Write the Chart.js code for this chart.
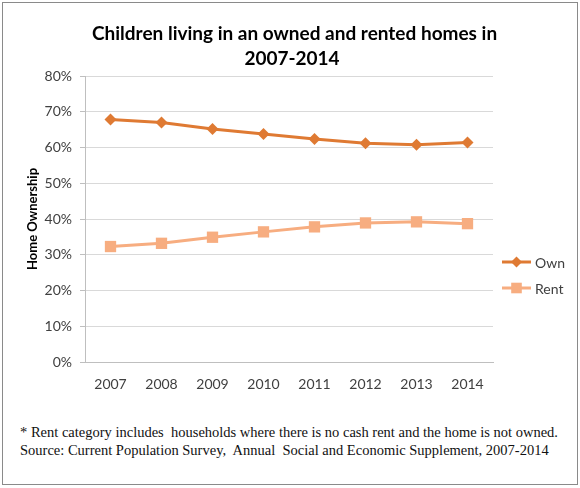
<!DOCTYPE html>
<html>
<head>
<meta charset="utf-8">
<script src="https://cdn.jsdelivr.net/npm/chart.js@4.4.1/dist/chart.umd.min.js"></script>
<style>
  html, body { margin: 0; padding: 0; background: #fff; }
  #frame {
    position: absolute; left: 2px; top: 2px; width: 574px; height: 481px;
    border: 1px solid #8a8a8a;
  }
  #wrap { position: absolute; left: 0; top: 0; width: 580px; height: 400px; }
  #title {
    position: absolute; left: 92px; width: 400px; top: 20px; text-align: center;
    font-family: Lato, "Open Sans", sans-serif; font-weight: bold;
    font-size: 19px; line-height: 25px; color: #000; white-space: nowrap;
  }
  #note {
    position: absolute; left: 20px; top: 423px;
    font-family: "Liberation Serif", "Times New Roman", serif;
    font-size: 14.5px; line-height: 18px; color: #111; white-space: pre;
  }
</style>
</head>
<body>
<div id="frame"></div>
<div id="wrap"><canvas id="chart" width="580" height="400"></canvas></div>
<div id="title">Children living in an owned and rented homes in<br>2007-2014</div>
<div id="note">* Rent category includes  households where there is no cash rent and the home is not owned.
Source: Current Population Survey,  Annual  Social and Economic Supplement, 2007-2014</div>
<script>
const YEARS = ["2007", "2008", "2009", "2010", "2011", "2012", "2013", "2014"];
const OWN = [67.8, 67.0, 65.2, 63.8, 62.4, 61.2, 60.8, 61.4];
const RENT = [32.3, 33.2, 34.9, 36.4, 37.8, 38.9, 39.2, 38.7];
const Y_TICKS = [0, 10, 20, 30, 40, 50, 60, 70, 80];

const OWN_COLOR = "#DF7A33";
const RENT_COLOR = "#F7AD80";
const TEXT_COLOR = "#404040";
const FONT = "Lato, 'Open Sans', sans-serif";

// legend on the right: short line with the marker in the middle
const sideLegend = {
  id: "sideLegend",
  afterDraw(chart) {
    const ctx = chart.ctx;
    const rows = [
      { label: "Own", color: OWN_COLOR, style: "rectRot", r: 5.5, y: 262 },
      { label: "Rent", color: RENT_COLOR, style: "rect", r: 7.5, y: 288 },
    ];
    ctx.save();
    rows.forEach((row) => {
      ctx.strokeStyle = row.color;
      ctx.lineWidth = 3;
      ctx.beginPath();
      ctx.moveTo(502, row.y);
      ctx.lineTo(531, row.y);
      ctx.stroke();
      ctx.fillStyle = row.color;
      Chart.helpers.drawPoint(ctx, { pointStyle: row.style, radius: row.r, borderWidth: 0 }, 516.5, row.y);
      ctx.fillStyle = TEXT_COLOR;
      ctx.font = "14px " + FONT;
      ctx.textBaseline = "middle";
      ctx.fillText(row.label, 535, row.y + 1);
    });
    ctx.restore();
  },
};

new Chart(document.getElementById("chart"), {
  type: "line",
  data: {
    labels: YEARS,
    datasets: [
      {
        label: "Own",
        data: OWN,
        borderColor: OWN_COLOR,
        backgroundColor: OWN_COLOR,
        borderWidth: 3,
        pointStyle: "rectRot",
        pointRadius: 6,
        pointBorderWidth: 0,
        tension: 0,
      },
      {
        label: "Rent",
        data: RENT,
        borderColor: RENT_COLOR,
        backgroundColor: RENT_COLOR,
        borderWidth: 3,
        pointStyle: "rect",
        pointRadius: 8,
        pointBorderWidth: 0,
        tension: 0,
      },
    ],
  },
  options: {
    responsive: false,
    animation: false,
    layout: { padding: { left: 25, right: 87, top: 76, bottom: 0 } },
    plugins: {
      legend: { display: false },
      tooltip: { enabled: false },
    },
    scales: {
      x: {
        offset: true,
        grid: { display: false },
        border: { display: true, color: "#bfbfbf" },
        ticks: { color: TEXT_COLOR, font: { family: FONT, size: 14 }, padding: 6 },
        afterFit: (s) => { s.height = 38; },
      },
      y: {
        min: 0,
        max: 80,
        afterBuildTicks: (s) => { s.ticks = Y_TICKS.map((v) => ({ value: v })); },
        grid: { color: "#d9d9d9", tickLength: 5, tickColor: "#bfbfbf" },
        border: { display: true, color: "#bfbfbf" },
        ticks: {
          color: TEXT_COLOR,
          font: { family: FONT, size: 14 },
          padding: 8,
          callback: (v) => v + "%",
        },
        title: {
          display: true,
          text: "Home Ownership",
          color: "#000",
          font: { family: FONT, size: 13, weight: "bold" },
          padding: 0,
        },
        afterFit: (s) => { s.width = 60; },
      },
    },
  },
  plugins: [sideLegend],
});
</script>
</body>
</html>
